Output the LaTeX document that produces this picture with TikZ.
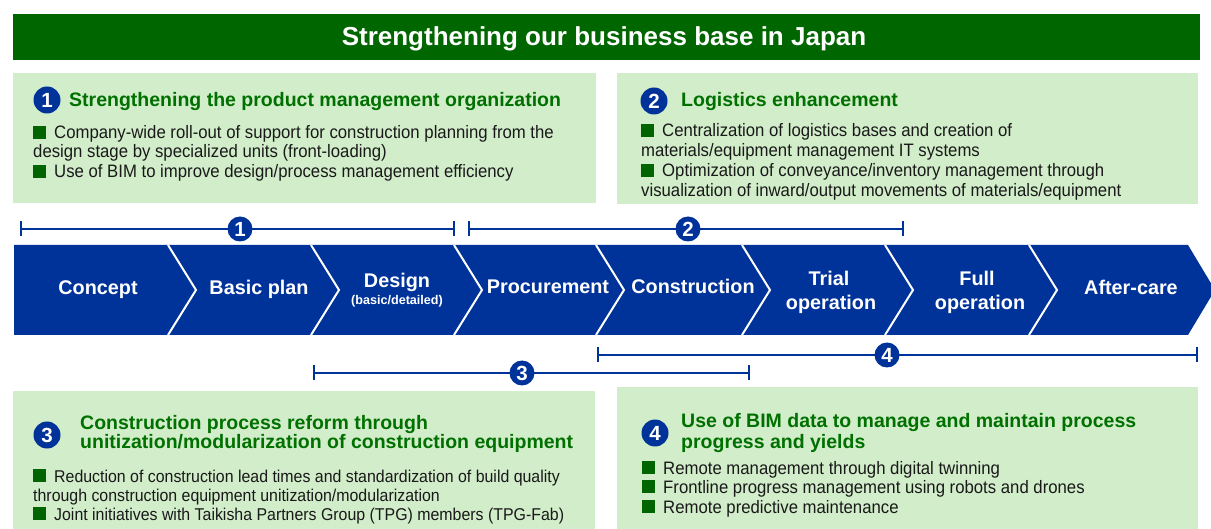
\documentclass[tikz,border=0pt]{standalone}
\usepackage{fontspec}
\setmainfont{Liberation Sans}
\newfontfamily\bodyfont{Liberation Sans}[FakeStretch=0.93]
\usetikzlibrary{arrows.meta}

\definecolor{navy}{RGB}{0,51,153}
\definecolor{bargreen}{RGB}{0,102,0}
\definecolor{panelfill}{RGB}{210,237,202}
\definecolor{headgreen}{RGB}{0,112,0}
\definecolor{bulletgreen}{RGB}{0,100,0}
\definecolor{bodytext}{RGB}{25,25,25}

\newcommand{\sqbullet}{\textcolor{bulletgreen}{\rule{13pt}{13pt}}\hspace{8pt}}

\tikzset{
  panel/.style={fill=panelfill, draw=none},
  heading/.style={anchor=base west, inner sep=0, text=headgreen,
    font=\fontsize{19.5}{20}\selectfont\bfseries},
  bodyline/.style={anchor=base west, inner sep=0, text=bodytext,
    font=\bodyfont\fontsize{18}{20}\selectfont},
  tightline/.style={bodyline, font=\bodyfont\fontsize{17.1}{20}\selectfont},
  badge/.style={circle, fill=navy, text=white, inner sep=0,
    minimum size=27pt, font=\fontsize{20.5}{20}\selectfont\bfseries},
  spanline/.style={draw=navy, line width=2pt, {Bar[width=15pt]}-{Bar[width=15pt]}},
  stage/.style={anchor=base, inner sep=0, text=white,
    font=\fontsize{19.8}{20}\selectfont\bfseries},
  chev/.style={fill=navy},
  sepline/.style={draw=white, line width=2pt},
}

\begin{document}
\begin{tikzpicture}[x=1pt,y=-1pt]
\useasboundingbox (0,0) rectangle (1211,529);

% title bar
\fill[bargreen] (13,14) rectangle (1200,60);
\node[anchor=base, inner sep=0, text=white, font=\fontsize{26}{26}\selectfont\bfseries]
  (title) at (604,46) {Strengthening our business base in Japan};

% ---------- panel 1 ----------
\fill[panel] (13,73) rectangle (596,203);
\node[badge] (b1) at (47,100) {1};
\node[heading] (h1) at (69,107) {Strengthening the product management organization};
\node[bodyline] (p1a) at (33,139) {\sqbullet Company-wide roll-out of support for construction planning from the};
\node[bodyline] (p1b) at (33,158) {design stage by specialized units (front-loading)};
\node[bodyline] (p1c) at (33,178) {\sqbullet Use of BIM to improve design/process management efficiency};

% ---------- panel 2 ----------
\fill[panel] (617,73) rectangle (1198,204);
\node[badge] (b2) at (654,101) {2};
\node[heading] (h2) at (681,107) {Logistics enhancement};
\node[bodyline] (p2a) at (641,137) {\sqbullet Centralization of logistics bases and creation of};
\node[bodyline] (p2b) at (641,157) {materials/equipment management IT systems};
\node[bodyline] (p2c) at (641,177) {\sqbullet Optimization of conveyance/inventory management through};
\node[bodyline] (p2d) at (641,197) {visualization of inward/output movements of materials/equipment};

% ---------- span markers above the stages ----------
\coordinate (s1a) at (20,229);  \coordinate (s1b) at (455,229);
\coordinate (s2a) at (468,229); \coordinate (s2b) at (904,229);
\draw[spanline] (s1a) -- (s1b);
\draw[spanline] (s2a) -- (s2b);
\node[badge, minimum size=25pt] (m1) at (240,229) {1};
\node[badge, minimum size=25pt] (m2) at (688,229) {2};

% ---------- stage chevrons ----------
\fill[chev] (14,245) -- (168,245) -- (196,290) -- (168,335) -- (14,335) -- cycle;
\fill[chev] (168,245) -- (311,245) -- (339,290) -- (311,335) -- (168,335) -- (196,290) -- cycle;
\fill[chev] (311,245) -- (454,245) -- (482,290) -- (454,335) -- (311,335) -- (339,290) -- cycle;
\fill[chev] (454,245) -- (596,245) -- (624,290) -- (596,335) -- (454,335) -- (482,290) -- cycle;
\fill[chev] (596,245) -- (742,245) -- (770,290) -- (742,335) -- (596,335) -- (624,290) -- cycle;
\fill[chev] (742,245) -- (885,245) -- (913,290) -- (885,335) -- (742,335) -- (770,290) -- cycle;
\fill[chev] (885,245) -- (1029,245) -- (1057,290) -- (1029,335) -- (885,335) -- (913,290) -- cycle;
\fill[chev] (1029,245) -- (1188,245) -- (1215,290) -- (1188,335) -- (1029,335) -- (1057,290) -- cycle;
\foreach \bx in {168,311,454,596,742,885,1029}
  \draw[sepline] (\bx,245) -- (\bx+28,290) -- (\bx,335);

\node[stage] (c1) at (98,295) {Concept};
\node[stage] (c2) at (259,295) {Basic plan};
\node[stage] (c3) at (397,288) {Design};
\node[stage, font=\fontsize{12.6}{13}\selectfont\bfseries] (c3s) at (397,305) {(basic/detailed)};
\node[stage] (c4) at (548,294) {Procurement};
\node[stage] (c5) at (693,294) {Construction};
\node[stage] (c6) at (829,286) {Trial};
\node[stage] (c6s) at (831,310) {operation};
\node[stage] (c7) at (977,286) {Full};
\node[stage] (c7s) at (980,310) {operation};
\node[stage] (c8) at (1131,295) {After-care};

% ---------- span markers below the stages ----------
\coordinate (s4a) at (597,355); \coordinate (s4b) at (1198,355);
\coordinate (s3a) at (313,373); \coordinate (s3b) at (750,373);
\draw[spanline] (s4a) -- (s4b);
\draw[spanline] (s3a) -- (s3b);
\node[badge, minimum size=25pt] (m4) at (887,355) {4};
\node[badge, minimum size=25pt] (m3) at (522,373) {3};

% ---------- panel 3 ----------
\fill[panel] (13,391) rectangle (595,529);
\node[badge] (b3) at (47,435) {3};
\node[heading] (h3a) at (80,430) {Construction process reform through};
\node[heading] (h3b) at (80,449) {unitization/modularization of construction equipment};
\node[tightline] (p3a) at (33,482) {\sqbullet Reduction of construction lead times and standardization of build quality};
\node[tightline] (p3b) at (33,501) {through construction equipment unitization/modularization};
\node[tightline] (p3c) at (33,520) {\sqbullet Joint initiatives with Taikisha Partners Group (TPG) members (TPG-Fab)};

% ---------- panel 4 ----------
\fill[panel] (617,387) rectangle (1198,529);
\node[badge] (b4) at (655,433) {4};
\node[heading] (h4a) at (681,428) {Use of BIM data to manage and maintain process};
\node[heading] (h4b) at (681,448) {progress and yields};
\node[bodyline] (p4a) at (642,474) {\sqbullet Remote management through digital twinning};
\node[bodyline] (p4b) at (642,493) {\sqbullet Frontline progress management using robots and drones};
\node[bodyline] (p4c) at (642,513) {\sqbullet Remote predictive maintenance};

\end{tikzpicture}
\end{document}
